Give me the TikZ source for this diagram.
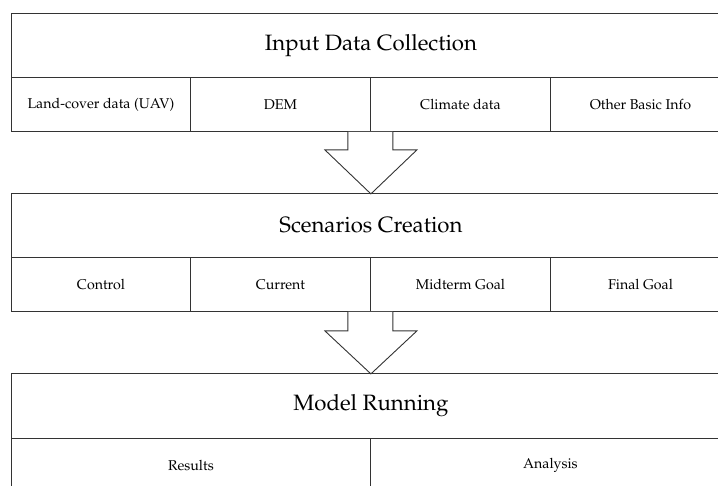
\documentclass[tikz,border=0pt]{standalone}
\usepackage[T1]{fontenc}
\usepackage{mathpazo}
\usetikzlibrary{calc}
\tikzset{
  cell/.style={draw=black!80, line width=0.9pt, rectangle, inner sep=0pt, anchor=north west},
  titlecell/.style={cell, font=\fontsize{22.2}{26}\selectfont},
  labelcell/.style={cell, font=\fontsize{14.2}{17}\selectfont},
  bigarrow/.style={draw=black!80, line width=0.9pt, fill=white, line join=miter},
}
\begin{document}
\begin{tikzpicture}[x=1pt,y=-1pt]
\useasboundingbox (0,0) rectangle (718,485);
\clip (0,0) rectangle (718,485);
% Box 1
\node[titlecell, minimum width=719pt, minimum height=64pt] (t1) at (11,13) {Input Data Collection};
\node[labelcell, minimum width=179pt, minimum height=54pt] (a1) at (11,77) {Land-cover data (UAV)};
\node[labelcell, minimum width=180pt, minimum height=54pt] (a2) at (190,77) {DEM};
\node[labelcell, minimum width=180pt, minimum height=54pt] (a3) at (370,77) {Climate data};
\node[labelcell, minimum width=180pt, minimum height=54pt] (a4) at (550,77) {Other Basic Info};
% Box 2
\node[titlecell, minimum width=719pt, minimum height=64pt] (t2) at (11,193) {Scenarios Creation};
\node[labelcell, minimum width=179pt, minimum height=54pt] (b1) at (11,257) {Control};
\node[labelcell, minimum width=180pt, minimum height=54pt] (b2) at (190,257) {Current};
\node[labelcell, minimum width=180pt, minimum height=54pt] (b3) at (370,257) {Midterm Goal};
\node[labelcell, minimum width=180pt, minimum height=54pt] (b4) at (550,257) {Final Goal};
% Box 3
\node[titlecell, minimum width=719pt, minimum height=65pt] (t3) at (11,373) {Model Running};
\node[labelcell, minimum width=359pt, minimum height=54pt] (c1) at (11,438) {Results};
\node[labelcell, minimum width=360pt, minimum height=54pt] (c2) at (370,438) {Analysis};
% Arrows
\coordinate (p1) at (a2.south east);
\draw[bigarrow] ($(p1)+(-23,0)$) -- ($(p1)+(-23,18)$) -- ($(p1)+(-46,18)$) -- ($(p1)+(0,62)$)
  -- ($(p1)+(46,18)$) -- ($(p1)+(22,18)$) -- ($(p1)+(22,0)$);
\coordinate (p2) at (b2.south east);
\draw[bigarrow] ($(p2)+(-23,0)$) -- ($(p2)+(-23,19)$) -- ($(p2)+(-46,19)$) -- ($(p2)+(0,62)$)
  -- ($(p2)+(46,19)$) -- ($(p2)+(22,19)$) -- ($(p2)+(22,0)$);
\end{tikzpicture}
\end{document}
